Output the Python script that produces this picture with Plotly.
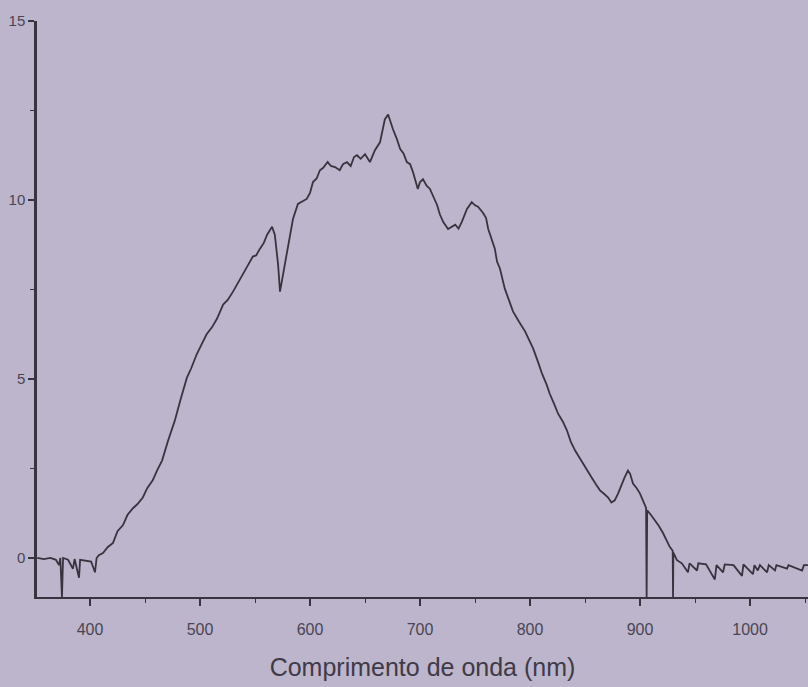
import plotly.graph_objects as go

# Spectrum
wavelength_nm = [
    352, 358, 364, 369, 371.8, 373, 374.5, 375.5, 380, 384.5, 386, 390, 391, 396, 401, 404.5, 406, 408,
    411.8, 416, 420.9, 425, 430, 434, 439, 443, 448, 452, 457, 461, 465.5, 471, 477, 482, 488, 492,
    497, 502, 506, 511, 515.5, 521, 525, 530, 535, 539, 544, 548, 551, 554.5, 558, 561, 565.5, 568,
    571, 572.7, 575.5, 580, 584.5, 589, 593, 597, 600, 602.7, 606, 609, 612, 616, 619, 622.7, 627,
    630, 633.6, 637, 640, 642.7, 646, 650, 654.5, 659, 663.6, 668, 671, 673, 675.5, 679, 682, 685,
    688, 691, 693.6, 698, 700, 702.7, 706, 709, 712, 715.5, 718, 721, 725.5, 729, 732, 735, 738,
    742.7, 747, 750, 752.7, 757, 760, 762, 765, 768, 770, 772.7, 777, 781, 784.5, 790, 795.5, 799,
    802.7, 807, 811, 815, 818, 822, 825.5, 830, 833.6, 837, 841, 845, 848, 852, 856, 860, 863.6,
    867, 871, 874, 877, 880, 883.6, 886, 889, 891, 893.6, 897, 900, 903, 905.5, 906, 906.5, 910,
    913.6, 917, 921, 924, 927, 929.7, 930, 930.3, 933.6, 938, 943.6, 945, 951.8, 953, 960, 968,
    969.5, 975.5, 977, 985, 992.7, 994, 1002.7, 1004, 1007, 1009, 1015.5, 1017, 1022.7, 1024,
    1033.6, 1035, 1047.3, 1049, 1053,
]
intensity = [
    0.0, -0.03, 0.0, -0.05, -0.2, 0.0, -1.09, 0.0, -0.05, -0.3, -0.03, -0.55, -0.05, -0.08, -0.1, -0.4, 0.0, 0.08,
    0.14, 0.3, 0.42, 0.75, 0.92, 1.2, 1.39, 1.5, 1.69, 1.95, 2.17, 2.45, 2.72, 3.28, 3.83, 4.39, 5.03, 5.3,
    5.69, 6.0, 6.25, 6.45, 6.69, 7.08, 7.2, 7.44, 7.7, 7.92, 8.2, 8.42, 8.45, 8.64, 8.8, 9.03, 9.25, 9.03,
    8.19, 7.44, 7.92, 8.64, 9.47, 9.89, 9.95, 10.03, 10.2, 10.5, 10.6, 10.83, 10.9, 11.06, 10.95, 10.92, 10.83,
    11.0, 11.06, 10.95, 11.2, 11.25, 11.15, 11.28, 11.06, 11.39, 11.61, 12.25, 12.39, 12.2, 11.97, 11.7, 11.42, 11.3,
    11.06, 11.0, 10.78, 10.31, 10.5, 10.58, 10.4, 10.31, 10.1, 9.86, 9.6, 9.39, 9.19, 9.25, 9.31, 9.2, 9.39,
    9.75, 9.94, 9.85, 9.81, 9.65, 9.5, 9.19, 8.9, 8.64, 8.28, 8.08, 7.53, 7.2, 6.89, 6.6, 6.33, 6.1,
    5.86, 5.5, 5.14, 4.85, 4.58, 4.3, 4.03, 3.8, 3.56, 3.25, 3.0, 2.8, 2.64, 2.45, 2.25, 2.05, 1.89,
    1.8, 1.69, 1.55, 1.61, 1.8, 2.08, 2.25, 2.44, 2.35, 2.08, 1.95, 1.8, 1.6, 1.4, -1.09, 1.33, 1.2,
    1.06, 0.9, 0.69, 0.5, 0.31, 0.2, -1.09, 0.15, -0.06, -0.15, -0.4, -0.15, -0.35, -0.15, -0.18, -0.6,
    -0.2, -0.4, -0.18, -0.2, -0.5, -0.18, -0.45, -0.2, -0.35, -0.2, -0.4, -0.2, -0.35, -0.2,
    -0.3, -0.2, -0.35, -0.2, -0.2,
]

x_ticks = [400, 500, 600, 700, 800, 900, 1000]
y_ticks = [0, 5, 10, 15]
x_title = "Comprimento de onda (nm)"

ink = "#38333f"
paper = "#bcb5cb"

fig = go.Figure()
fig.add_trace(go.Scatter(
    x=wavelength_nm, y=intensity, mode="lines",
    line=dict(color=ink, width=1.8),
    showlegend=False, hoverinfo="skip",
))

fig.update_layout(
    width=808, height=687,
    margin=dict(l=37, r=0, t=21, b=90),
    paper_bgcolor=paper, plot_bgcolor=paper,
    font=dict(family="Liberation Sans, Arial, sans-serif", color="#4a4554"),
    xaxis=dict(
        range=[351.8, 1052.7],
        tickvals=x_ticks, ticktext=[str(v) for v in x_ticks],
        ticks="outside", ticklen=7, tickwidth=1.5, tickcolor=ink,
        minor=dict(dtick=50, tick0=350, ticks="outside", ticklen=4, tickwidth=1.3, tickcolor=ink),
        showline=True, linecolor=ink, linewidth=2,
        showgrid=False, zeroline=False,
        tickfont=dict(size=16, color="#4a4554"),
        ticklabelstandoff=10,
        title=dict(text=x_title, font=dict(size=25, color="#3f3a48"), standoff=21),
    ),
    yaxis=dict(
        range=[-1.09, 15],
        tickvals=y_ticks, ticktext=[str(v) for v in y_ticks],
        ticks="outside", ticklen=6, tickwidth=1.5, tickcolor=ink,
        minor=dict(dtick=2.5, tick0=0, ticks="outside", ticklen=4, tickwidth=1.3, tickcolor=ink),
        showline=True, linecolor=ink, linewidth=2.5,
        showgrid=False, zeroline=False,
        tickfont=dict(size=15, color="#4a4554"),
        ticklabelstandoff=0,
    ),
)

fig.write_html("out.html")
